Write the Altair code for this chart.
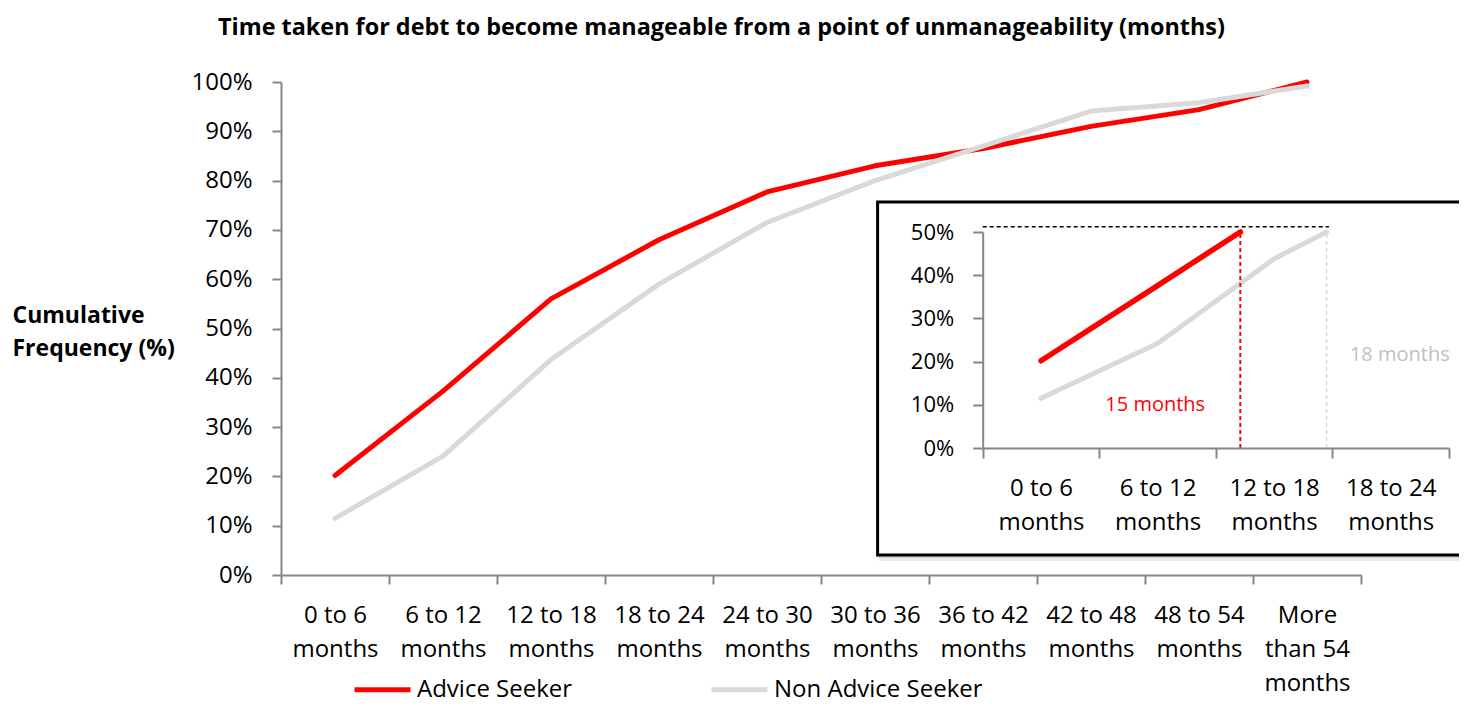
import altair as alt
import pandas as pd

# ---------------- data ----------------
categories = ["0 to 6|months", "6 to 12|months", "12 to 18|months", "18 to 24|months",
              "24 to 30|months", "30 to 36|months", "36 to 42|months", "42 to 48|months",
              "48 to 54|months", "More|than 54|months"]
advice_seeker = [20.2, 37.3, 56.0, 68.0, 77.7, 83.0, 86.5, 91.0, 94.4, 100.0]
non_advice_seeker = [11.5, 24.1, 43.7, 59.0, 71.5, 80.0, 87.0, 94.1, 95.8, 99.2]
series_names = ["Advice Seeker", "Non Advice Seeker"]
series_colors = ["#ff0000", "#d9d9d9"]

inset_categories = ["0 to 6|months", "6 to 12|months", "12 to 18|months", "18 to 24|months"]
inset_advice_pos = [0.5, 1.5, 2.21]
inset_advice_val = [20.2, 37.6, 50.0]
inset_non_pos = [0.5, 1.5, 2.5, 2.95]
inset_non_val = [11.5, 24.2, 43.8, 50.0]
threshold_level = [51.2]
threshold_end = [2.97]
marker_pos = [2.21, 2.95]
annot_text = ["15 months", "18 months"]
annot_pos = [1.48, 3.15]
annot_val = [8.5, 20.1]

TITLE = "Time taken for debt to become manageable from a point of unmanageability (months)"
FONT = "Open Sans"

# ---------------- tables ----------------
main_df = pd.DataFrame({
    "mx": [i + 0.5 for i in range(len(categories))] * 2,
    "my": advice_seeker + non_advice_seeker,
    "series": [series_names[0]] * len(categories) + [series_names[1]] * len(categories),
})
box_df = pd.DataFrame({"k": [0]})
ins_red = pd.DataFrame({"ix": inset_advice_pos, "iy": inset_advice_val})
ins_gray = pd.DataFrame({"ix": inset_non_pos, "iy": inset_non_val})
hdash_df = pd.DataFrame({"ix": [0.0], "ix2": threshold_end, "iy": threshold_level})
rdash_df = pd.DataFrame({"ix": [marker_pos[0]], "iy": [0.0], "iy2": [50.0]})
gdash_df = pd.DataFrame({"ix": [marker_pos[1]], "iy": [0.0], "iy2": [50.0]})
t15_df = pd.DataFrame({"ix": [annot_pos[0]], "iy": [annot_val[0]], "label": [annot_text[0]]})
t18_df = pd.DataFrame({"ix": [annot_pos[1]], "iy": [annot_val[1]], "label": [annot_text[1]]})


def arr_literal(items):
    return "[" + ",".join("'" + s + "'" for s in items) + "]"


axis_style = dict(domainColor="#868686", tickColor="#868686", domainWidth=2, tickWidth=2,
                  labelColor="#000000", labelFont=FONT, grid=False)

# ---------------- main chart ----------------
n = len(categories)
x_main = alt.X("mx:Q", scale=alt.Scale(domain=[0, n], nice=False, zero=False),
               axis=alt.Axis(values=list(range(n + 1)),
                             labelExpr=f"datum.value < {n} ? split({arr_literal(categories)}[datum.value], '|') : ''",
                             labelOffset=54, labelFontSize=24, labelLineHeight=34, labelPadding=19,
                             tickSize=9, labelFlush=False, labelOverlap=False, labelBound=False,
                             labelBaseline="top", labelAlign="center", title=None, **axis_style))
y_main = alt.Y("my:Q", scale=alt.Scale(domain=[0, 100], nice=False),
               axis=alt.Axis(values=list(range(0, 101, 10)), labelExpr="datum.value + '%'",
                             labelFontSize=24, labelPadding=20, tickSize=9,
                             title=["Cumulative", "Frequency (%)"], titleAngle=0, titleAlign="left",
                             titleBaseline="alphabetic", titleX=-269, titleY=240, titleFontSize=23,
                             titleFont=FONT, titleFontWeight="bold", titleLineHeight=33,
                             titleColor="#000000", **axis_style))
color = alt.Color("series:N", scale=alt.Scale(domain=series_names, range=series_colors),
                  legend=alt.Legend(orient="none", legendX=71, legendY=577, direction="horizontal",
                                    symbolType="stroke", symbolSize=3136, symbolStrokeWidth=5,
                                    labelFontSize=24, labelFont=FONT, labelColor="#000000",
                                    labelOffset=4, columnPadding=128, title=None, labelLimit=0))

lines_main = alt.Chart(main_df).mark_line(strokeWidth=5, strokeCap="round", strokeJoin="round").encode(
    x=x_main, y=y_main, color=color)

shadow1 = alt.Chart(box_df).mark_rect(fill="#000000", opacity=0.08).encode(
    x=alt.value(598), x2=alt.value(1190), y=alt.value(122), y2=alt.value(479))
shadow2 = alt.Chart(box_df).mark_rect(fill="#000000", opacity=0.10).encode(
    x=alt.value(597), x2=alt.value(1188), y=alt.value(121), y2=alt.value(476))
box = alt.Chart(box_df).mark_rect(fill="#ffffff", stroke="#000000", strokeWidth=3).encode(
    x=alt.value(596.6), x2=alt.value(1184), y=alt.value(120), y2=alt.value(473))

main_layer = alt.layer(lines_main, shadow1, shadow2, box)

# ---------------- inset ----------------
ni = len(inset_categories)
ixs = alt.Scale(domain=[0, ni], range=[701.7, 1168], nice=False, zero=False)
iys = alt.Scale(domain=[0, 50], range=[366, 150], nice=False, zero=False)
ix_axis = alt.Axis(values=list(range(ni + 1)),
                   labelExpr=f"datum.value < {ni} ? split({arr_literal(inset_categories)}[datum.value], '|') : ''",
                   labelOffset=58.3, labelFontSize=24, labelLineHeight=34, labelPadding=18, tickSize=10,
                   labelFlush=False, labelOverlap=False, labelBound=False, labelBaseline="top",
                   labelAlign="center", orient="bottom", offset=-127, zindex=2, title=None, **axis_style)
iy_axis = alt.Axis(values=list(range(0, 51, 10)), labelExpr="datum.value + '%'", labelFontSize=22,
                   labelPadding=19, tickSize=10, orient="left", offset=-701.7, zindex=2, title=None,
                   **axis_style)
IX = alt.X("ix:Q", scale=ixs, axis=ix_axis)
IY = alt.Y("iy:Q", scale=iys, axis=iy_axis)

inset_red = alt.Chart(ins_red).mark_line(color=series_colors[0], strokeWidth=5.5, strokeCap="round").encode(x=IX, y=IY)
inset_gray = alt.Chart(ins_gray).mark_line(color=series_colors[1], strokeWidth=5, strokeCap="round").encode(x=IX, y=IY)
hdash = alt.Chart(hdash_df).mark_rule(color="#000000", strokeWidth=1.5, strokeDash=[4, 3]).encode(
    x=IX, x2="ix2:Q", y=IY)
rdash = alt.Chart(rdash_df).mark_rule(color=series_colors[0], strokeWidth=2, strokeDash=[4, 3]).encode(
    x=IX, y=IY, y2="iy2:Q")
gdash = alt.Chart(gdash_df).mark_rule(color=series_colors[1], strokeWidth=1.5, strokeDash=[4, 3]).encode(
    x=IX, y=IY, y2="iy2:Q")
t15 = alt.Chart(t15_df).mark_text(font=FONT, fontSize=20, color="#ff0000", align="center",
                                  baseline="alphabetic").encode(x=IX, y=IY, text="label:N")
t18 = alt.Chart(t18_df).mark_text(font=FONT, fontSize=20, color="#bfbfbf", align="left",
                                  baseline="alphabetic").encode(x=IX, y=IY, text="label:N")

inset_layer = alt.layer(inset_red, inset_gray, hdash, rdash, gdash, t15, t18)

chart = alt.layer(main_layer, inset_layer).resolve_scale(x="independent", y="independent").properties(
    width=1080, height=493,
    title=alt.TitleParams(text=TITLE, font=FONT, fontSize=23.4, fontWeight="bold", color="#000000",
                          anchor="start", frame="group", dx=-63, offset=30),
    padding={"left": 273, "top": 74, "right": 98, "bottom": 128},
    autosize=alt.AutoSizeParams(type="none"),
    view=alt.ViewBackground(stroke="transparent", strokeWidth=0, strokeOpacity=0),
).configure_view(stroke="transparent", strokeWidth=0, strokeOpacity=0).configure(font=FONT)

chart.save("out.html", embed_options={"renderer": "svg", "actions": False})
